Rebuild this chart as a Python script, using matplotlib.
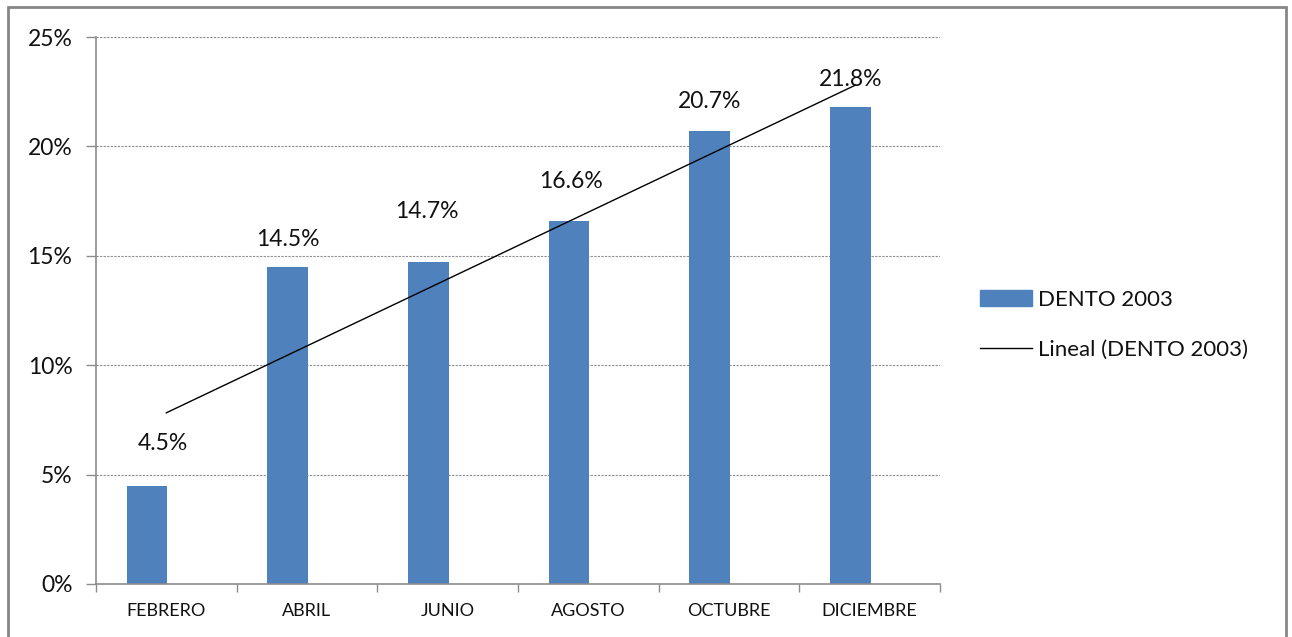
import numpy as np
import matplotlib
matplotlib.use("Agg")
import matplotlib.pyplot as plt
from matplotlib.patches import Rectangle
from matplotlib.lines import Line2D
from matplotlib.ticker import FuncFormatter, MultipleLocator

categories = ["FEBRERO", "ABRIL", "JUNIO", "AGOSTO", "OCTUBRE", "DICIEMBRE"]
values = [4.5, 14.5, 14.7, 16.6, 20.7, 21.8]
value_labels = ["4.5%", "14.5%", "14.7%", "16.6%", "20.7%", "21.8%"]
series_name = "DENTO 2003"
trend_name = "Lineal (DENTO 2003)"

# styling: bar offset within category, label offsets (pixels)
bar_shift = -0.137
label_dx = [16, 0, -2, 2, 0, 0]
label_dy = [42, 27, 51, 39, 30, 28]

plt.rcParams['font.family'] = ['Lato', 'DejaVu Sans']

W, H = 1292, 637
fig = plt.figure(figsize=(W / 100, H / 100), dpi=100)
ax = fig.add_axes([96 / W, (H - 584) / H, 844 / W, 547 / H])

bar_color = "#4F81BD"
x = np.arange(len(categories))
ax.bar(x + bar_shift, values, width=0.29, color=bar_color, zorder=3, label=series_name)

# linear trendline (least squares on the series)
coef = np.polyfit(x + 1, values, 1)
tx = np.array([x[0], x[-1] - 0.1])
ax.plot(tx, np.polyval(coef, tx + 1), color="#000000", lw=1.0, zorder=4)

for xi, v, lab, dx, dy in zip(x + bar_shift, values, value_labels, label_dx, label_dy):
    ax.annotate(lab, (xi, v), xytext=(dx * 0.72, dy * 0.72), textcoords="offset points",
                ha="center", va="center", fontsize=16.5, color="#111111", zorder=5)

ax.set_xlim(-0.5, len(categories) - 0.5)
ax.set_ylim(0, 25)
ax.yaxis.set_major_locator(MultipleLocator(5))
ax.yaxis.set_major_formatter(FuncFormatter(lambda v, p: f"{v:.0f}%"))
ax.set_xticks(x)
ax.set_xticklabels(categories)
ax.set_xticks(np.arange(len(categories) + 1) - 0.5, minor=True)
ax.tick_params(axis="x", which="major", length=0, pad=14, labelsize=13, labelcolor="#111111")
ax.tick_params(axis="x", which="minor", length=6, width=1, color="#8c8c8c")
ax.tick_params(axis="y", which="major", length=7, width=1, color="#8c8c8c", pad=10,
               labelsize=16.5, labelcolor="#111111")

ax.grid(axis="y", color="#8c8c8c", linestyle=(0, (2, 1.2)), lw=0.8, zorder=0)
for s in ["top", "right"]:
    ax.spines[s].set_visible(False)
for s in ["left", "bottom"]:
    ax.spines[s].set_color("#8c8c8c")
    ax.spines[s].set_linewidth(1.2)
ax.spines["bottom"].set_zorder(4)

handles = [Rectangle((0, 0), 1, 1, color=bar_color),
           Line2D([0], [0], color="#000000", lw=1.0)]
fig.legend(handles, [series_name, trend_name], loc="center left",
           bbox_to_anchor=(960 / W, 1 - 325 / H), frameon=False,
           fontsize=16, handlelength=2.35, handleheight=0.7, handletextpad=0.25,
           labelspacing=1.35, labelcolor="#111111")

# outer frame
fig.add_artist(Rectangle((8 / W, -0.05), (1286 - 8) / W, 1.05 - 7 / H,
                         transform=fig.transFigure, fill=False,
                         edgecolor="#868686", lw=2.0))

fig.savefig("out.png", dpi=100)
